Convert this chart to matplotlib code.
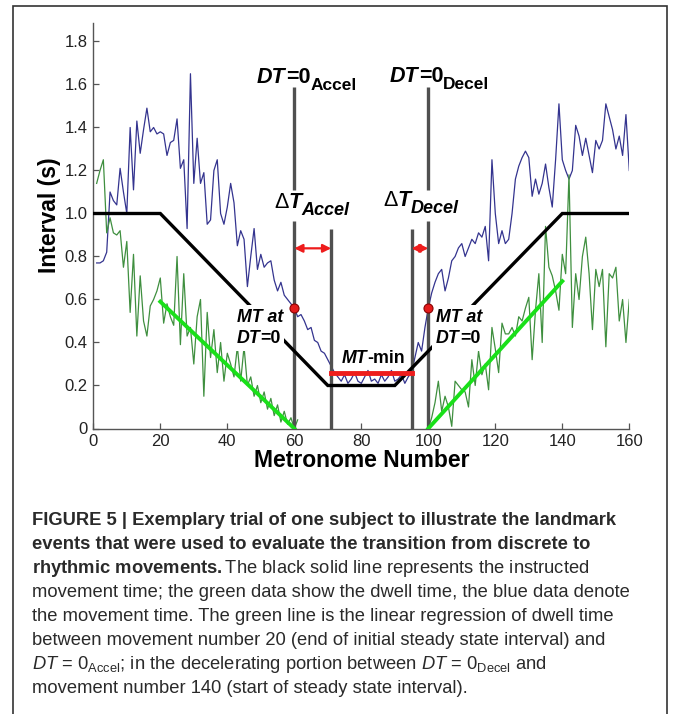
import numpy as np
import matplotlib
matplotlib.use("Agg")
import matplotlib.pyplot as plt
import matplotlib.transforms as mtransforms
from matplotlib.patches import Rectangle

# fonts: Arial-like text; mathtext only used in the caption
plt.rcParams["font.family"] = ["Liberation Sans", "DejaVu Sans"]
plt.rcParams["mathtext.fontset"] = "custom"
plt.rcParams["mathtext.rm"] = "Liberation Sans"
plt.rcParams["mathtext.it"] = "Liberation Sans:italic"
plt.rcParams["mathtext.bf"] = "Liberation Sans:bold"

# movement time (blue), metronome 1..160
metronome = np.arange(1, 161)
movement_time = [
    0.77, 0.77, 0.78, 0.82, 1.10, 1.06, 1.04, 1.21, 1.10, 1.00,
    1.40, 1.11, 1.43, 1.28, 1.39, 1.49, 1.38, 1.40, 1.37, 1.38,
    1.37, 1.27, 1.33, 1.34, 1.44, 1.21, 1.25, 0.93, 1.65, 1.14,
    1.35, 1.14, 1.19, 0.95, 0.97, 1.20, 1.25, 1.00, 0.95, 1.03,
    1.14, 1.05, 0.85, 0.92, 0.88, 0.66, 0.80, 0.93, 0.74, 0.81,
    0.75, 0.77, 0.78, 0.69, 0.64, 0.68, 0.62, 0.60, 0.58, 0.56,
    0.52, 0.53, 0.50, 0.46, 0.47, 0.41, 0.40, 0.36, 0.35, 0.32,
    0.29, 0.26, 0.24, 0.22, 0.25, 0.21, 0.23, 0.26, 0.22, 0.21,
    0.24, 0.27, 0.22, 0.23, 0.21, 0.25, 0.22, 0.24, 0.27, 0.22,
    0.23, 0.25, 0.21, 0.24, 0.26, 0.33, 0.40, 0.36, 0.47, 0.56,
    0.63, 0.68, 0.72, 0.74, 0.64, 0.70, 0.78, 0.80, 0.84, 0.86,
    0.80, 0.84, 0.88, 0.86, 0.91, 0.89, 0.94, 0.78, 1.25, 1.00,
    0.86, 0.92, 0.86, 0.88, 1.00, 1.16, 1.22, 1.26, 1.29, 1.26,
    1.08, 1.16, 1.09, 1.14, 1.23, 1.12, 1.03, 1.25, 1.51, 1.25,
    1.20, 1.16, 1.20, 1.41, 1.36, 1.27, 1.35, 1.27, 1.19, 1.34,
    1.30, 1.34, 1.51, 1.45, 1.39, 1.30, 1.36, 1.27, 1.46, 1.20,
]

# dwell time (green), accelerating part 1..61 and decelerating part 100..160
dwell_accel_x = np.arange(1, 62)
dwell_accel = [
    1.14, 1.20, 1.25, 0.91, 0.98, 0.91, 0.90, 0.92, 0.75, 0.87,
    0.54, 0.81, 0.43, 0.71, 0.50, 0.43, 0.57, 0.60, 0.64, 0.70,
    0.49, 0.58, 0.52, 0.48, 0.80, 0.39, 0.72, 0.43, 0.47, 0.30,
    0.52, 0.60, 0.15, 0.54, 0.33, 0.46, 0.26, 0.40, 0.22, 0.35,
    0.30, 0.24, 0.38, 0.22, 0.38, 0.20, 0.24, 0.15, 0.20, 0.12,
    0.17, 0.09, 0.14, 0.06, 0.11, 0.03, 0.08, 0.02, 0.05, 0.00,
    0.04,
]
dwell_decel_x = np.arange(100, 161)
dwell_decel = [
    0.00, 0.05, 0.12, 0.22, 0.08, 0.15, 0.10, 0.01, 0.22, 0.20,
    0.18, 0.17, 0.10, 0.32, 0.20, 0.36, 0.25, 0.30, 0.18, 0.47,
    0.37, 0.26, 0.49, 0.44, 0.44, 0.47, 0.43, 0.52, 0.50, 0.56,
    0.61, 0.32, 0.55, 0.72, 0.40, 0.94, 0.75, 0.71, 0.64, 0.55,
    0.81, 0.72, 1.18, 0.47, 0.72, 0.60, 0.80, 0.89, 0.72, 0.46,
    0.74, 0.66, 0.74, 0.38, 0.72, 0.70, 0.75, 0.50, 0.60, 0.40,
    0.60,
]

# instructed movement time (black)
instr_x = [0, 20, 70, 90, 140, 160]
instr_y = [1.0, 1.0, 0.2, 0.2, 1.0, 1.0]

# regression of dwell time (bright green)
reg_accel_x = [20, 60]
reg_accel_y = [0.59, 0.0]
reg_decel_x = [100, 140]
reg_decel_y = [0.0, 0.685]

# landmarks
dt0_accel, dt0_decel = 60, 100
mtmin_start, mtmin_end = 71, 95
mtmin_level = 0.257
mt_at_dt0 = [0.56, 0.56]

fig = plt.figure(figsize=(6.73, 7.14), dpi=100)
ax = fig.add_axes([93.3 / 673, 1 - 428.5 / 714, 536 / 673, 405.5 / 714])
renderer = fig.canvas.get_renderer()

ax.plot(metronome, movement_time, color="#34348f", lw=0.9, zorder=2)
ax.plot(dwell_accel_x, dwell_accel, color="#3f8f3f", lw=0.9, zorder=2)
ax.plot(dwell_decel_x, dwell_decel, color="#3f8f3f", lw=0.9, zorder=2)
ax.plot(instr_x, instr_y, color="black", lw=2.4, zorder=3, solid_joinstyle="miter")
ax.plot(reg_accel_x, reg_accel_y, color="#19e019", lw=2.8, zorder=3.5)
ax.plot(reg_decel_x, reg_decel_y, color="#19e019", lw=2.8, zorder=3.5)

# vertical landmark lines
gray = "#505050"
ax.vlines([dt0_accel, dt0_decel], 1.11, 1.59, color=gray, lw=2.4, zorder=2.6)
ax.vlines([dt0_accel, dt0_decel], 0, 0.965, color=gray, lw=2.4, zorder=2.6)
ax.vlines([mtmin_start, mtmin_end], 0, 0.93, color=gray, lw=2.4, zorder=2.6)

# MT-min line
ax.plot([mtmin_start, mtmin_end], [mtmin_level, mtmin_level], color="#ee1c1c", lw=3.5, zorder=4)

# delta T arrows
arr = dict(arrowstyle="<|-|>", color="#ee1c1c", lw=1.6, mutation_scale=12,
           shrinkA=0, shrinkB=0)
ax.annotate("", xy=(mtmin_start, 0.838), xytext=(dt0_accel, 0.838), arrowprops=arr, zorder=4)
ax.annotate("", xy=(dt0_decel, 0.838), xytext=(mtmin_end, 0.838), arrowprops=arr, zorder=4)

# MT at DT=0 points
ax.plot([dt0_accel, dt0_decel], mt_at_dt0, "o", color="#e41a1a", mec="#8a0000",
        mew=0.8, ms=6.5, zorder=5)


def label(x, y, parts, box=None):
    # parts: (text, style, weight, size, drop in px); placed one after another.
    # with box: only a white patch under the text (hides the black line)
    dx = 0
    for s, style, weight, size, drop in parts:
        tr = mtransforms.offset_copy(ax.transData, fig=fig, x=dx, y=-drop, units="dots")
        t = ax.text(x, y, s, transform=tr, fontsize=size, fontstyle=style,
                    fontweight=weight, ha="left", va="baseline",
                    color="black" if box is None else "white",
                    zorder=6 if box is None else 3.2, bbox=box)
        dx += t.get_window_extent(renderer).width


label(48.9, 1.607, [("DT", "italic", "bold", 15.5, 0), ("=0", "normal", "bold", 15.5, 0),
                    ("Accel", "normal", "bold", 12.5, 7)])
label(88.6, 1.613, [("DT", "italic", "bold", 15.5, 0), ("=0", "normal", "bold", 15.5, 0),
                    ("Decel", "normal", "bold", 12.5, 7)])
label(54.0, 1.025, [("\u0394", "normal", "normal", 15.5, 0), ("T", "italic", "bold", 15.5, 0),
                    ("Accel", "italic", "bold", 13, 7)])
label(86.6, 1.035, [("\u0394", "normal", "normal", 15.5, 0), ("T", "italic", "bold", 15.5, 0),
                    ("Decel", "italic", "bold", 13, 7)])
label(74.1, 0.303, [("MT", "italic", "bold", 12.8, 0), ("-min", "normal", "bold", 12.8, 0)])
white = dict(facecolor="white", edgecolor="none", pad=2.5)
mt_line = [("MT at", "italic", "bold", 12.8, 0)]
dt_line = [("DT", "italic", "bold", 12.8, 0), ("=0", "normal", "bold", 12.8, 0)]
for x0 in (42.8, 102.3):
    label(x0, 0.497, mt_line, box=white)
    label(x0, 0.396, dt_line, box=white)
    label(x0, 0.497, mt_line)
    label(x0, 0.396, dt_line)

# axes styling
ax.set_xlim(0, 160)
ax.set_ylim(0, 1.886)
ax.set_xticks(np.arange(0, 161, 20))
ax.set_yticks(np.arange(0, 1.81, 0.2))
ax.set_yticklabels(["0", "0.2", "0.4", "0.6", "0.8", "1.0", "1.2", "1.4", "1.6", "1.8"])
ax.tick_params(direction="in", length=4, width=0.9, color="#555555",
               labelsize=12, labelcolor="#222222")
ax.tick_params(axis="y", pad=4)
ax.tick_params(axis="x", pad=4)
for side in ("top", "right"):
    ax.spines[side].set_visible(False)
for side in ("left", "bottom"):
    ax.spines[side].set_color("#555555")
    ax.spines[side].set_linewidth(1.0)

ax.set_xlabel("Metronome Number", fontsize=16.5, fontweight="bold", labelpad=0)
ax.set_ylabel("Interval (s)", fontsize=16.5, fontweight="bold")
ax.yaxis.set_label_coords(-0.0826, 0.527)
ax.yaxis.label.set_verticalalignment("center")

# caption
caption = [
    ("FIGURE 5 | Exemplary trial of one subject to illustrate the landmark", "bold"),
    ("events that were used to evaluate the transition from discrete to", "bold"),
    (r"$\mathbf{rhythmic\ movements.}$The black solid line represents the instructed", "normal"),
    ("movement time; the green data show the dwell time, the blue data denote", "normal"),
    ("the movement time. The green line is the linear regression of dwell time", "normal"),
    ("between movement number 20 (end of initial steady state interval) and", "normal"),
    (r"$\mathit{DT}$ = 0$_{\mathrm{Accel}}$; in the decelerating portion between "
     r"$\mathit{DT}$ = 0$_{\mathrm{Decel}}$ and", "normal"),
    ("movement number 140 (start of steady state interval).", "normal"),
]
for i, (line, weight) in enumerate(caption):
    fig.text(32 / 673, 1 - (525 + 24 * i) / 714, line, fontsize=13.2,
             fontweight=weight, color="#2a2a2a", ha="left", va="baseline")

# frame around the figure panel
fig.patches.append(Rectangle((13.3 / 673, -0.02), (666.7 - 13.3) / 673, 1 - 6 / 714 + 0.02,
                             transform=fig.transFigure, fill=False,
                             edgecolor="#333333", lw=1.2))

fig.savefig("out.png", dpi=100)
